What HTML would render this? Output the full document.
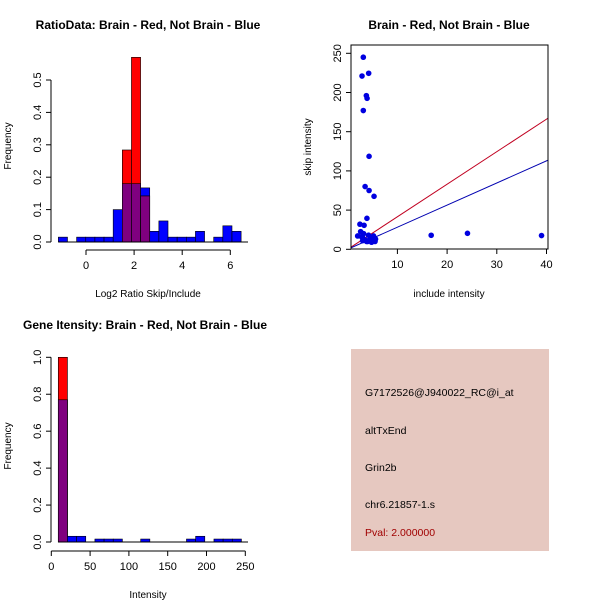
<!DOCTYPE html>
<html><head><meta charset="utf-8"><style>
html,body{margin:0;padding:0;background:#fff;}
svg{display:block;font-family:"Liberation Sans",sans-serif;}
</style></head><body>
<svg id="c" width="600" height="600" viewBox="0 0 600 600"></svg>
<script>
// Panel 1 data: log2 ratio histogram
const p1Start = -1.15, p1Width = 0.38;
const p1Blue = [0.015,0,0.015,0.015,0.015,0.015,0.1,0.18,0.18,0.167,0.033,0.065,0.015,0.015,0.015,0.033,0,0.015,0.05,0.033];
const p1Red  = [0,0,0,0,0,0,0,0.284,0.57,0.142,0,0,0,0,0,0,0,0,0,0];
const p1XTicks = [0,2,4,6];
const p1YTicks = [0,0.1,0.2,0.3,0.4,0.5];
// Panel 2 data: scatter
const p2X = [3.14,2.88,4.22,3.75,3.9,3.14,4.3,3.5,4.3,5.3,3.87,2.46,3.3,2.6,2.0,16.8,24.1,39.0,3,3.5,4,4.5,5,5.5,4.2,3.2,2.8,5.2,3.8,4.8,5.6,3.0];
const p2Y = [245,221,224.5,196,192.6,177,118.6,80,75,67.6,39.5,32,30.6,22.5,17,17.9,20.4,17.5,15,12,10,14,12,10,18,20,16,17,10,9,13,11];
const p2RedSlope = 4.15, p2BlueSlope = 2.82;
const p2XTicks = [10,20,30,40];
const p2YTicks = [0,50,100,150,200,250];
// Panel 3 data: intensity histogram
const p3Start = 9, p3Width = 11.8;
const p3Blue = [0.77,0.031,0.031,0,0.016,0.016,0.016,0,0,0.016,0,0,0,0,0.016,0.031,0,0.016,0.016,0.016];
const p3Red  = [1.0,0,0,0,0,0,0,0,0,0,0,0,0,0,0,0,0,0,0,0];
const p3XTicks = [0,50,100,150,200,250];
const p3YTicks = [0,0.2,0.4,0.6,0.8,1.0];

const svg = document.getElementById('c');
const NS = 'http://www.w3.org/2000/svg';
function mk(tag, attrs, parent){const e=document.createElementNS(NS,tag);for(const k in attrs)e.setAttribute(k,attrs[k]);(parent||svg).appendChild(e);return e;}
function txt(s,x,y,attrs){const e=mk('text',Object.assign({x:x,y:y,'font-size':11,fill:'#000'},attrs||{}));e.textContent=s;return e;}

function hist(g, start, width, blue, red, sx, sy, y0){
  for(let i=0;i<blue.length;i++){
    const a=start+i*width,b=a+width;
    const x1=sx(a),x2=sx(b);
    const bl=blue[i], rd=red[i], mn=Math.min(bl,rd);
    if(bl>0){const r=mk('rect',{x:x1,y:sy(bl),width:x2-x1,height:y0-sy(bl),fill:'#0000ff',stroke:'#000','stroke-width':0.6},g);
      
      }
    if(rd>0){const r=mk('rect',{x:x1,y:sy(rd),width:x2-x1,height:y0-sy(rd),fill:'#ff0000',stroke:'#000','stroke-width':0.6},g);
      
      }
    if(mn>0){const r=mk('rect',{x:x1,y:sy(mn),width:x2-x1,height:y0-sy(mn),fill:'#7f007f',stroke:'#000','stroke-width':0.6},g);
      
      }
  }
}
function yAxis(g,x,ticks,sy,fmt){
  mk('line',{x1:x,x2:x,y1:sy(ticks[0]),y2:sy(ticks[ticks.length-1]),stroke:'#000'},g);
  ticks.forEach(t=>{mk('line',{x1:x-5,x2:x,y1:sy(t),y2:sy(t),stroke:'#000'},g);
    txt(fmt(t),x-10,sy(t),{'text-anchor':'middle',transform:`rotate(-90 ${x-10} ${sy(t)})`});});
}
function xAxis(g,y,ticks,sx,line){
  if(line) mk('line',{x1:sx(ticks[0]),x2:sx(ticks[ticks.length-1]),y1:y,y2:y,stroke:'#000'},g);
  ticks.forEach(t=>{mk('line',{x1:sx(t),x2:sx(t),y1:y,y2:y+5,stroke:'#000'},g);
    txt(String(t),sx(t),y+19,{'text-anchor':'middle'});});
}

// Panel 1
const g1=mk('g',{});


const sx1=v=>86+v*24.05, sy1=v=>242-v*324;
txt('RatioData: Brain - Red, Not Brain - Blue',148,29,{'font-weight':'bold','font-size':12,'text-anchor':'middle'});
hist(g1,p1Start,p1Width,p1Blue,p1Red,sx1,sy1,242);
mk('line',{x1:sx1(p1Start),x2:248,y1:242,y2:242,stroke:'#000'},g1);
yAxis(g1,51,p1YTicks,sy1,t=>t.toFixed(1));
xAxis(g1,250,p1XTicks,sx1,true);
txt('Frequency',11,146,{'text-anchor':'middle',transform:'rotate(-90 11 146)','font-size':10});
txt('Log2 Ratio Skip/Include',148,297,{'text-anchor':'middle','font-size':10});

// Panel 2
const g2=mk('g',{});


const sx2=v=>347.7+v*4.97, sy2=v=>249.3-v*0.784;
txt('Brain - Red, Not Brain - Blue',449,29,{'font-weight':'bold','font-size':12,'text-anchor':'middle'});
mk('defs',{}).innerHTML='<clipPath id="cp2"><rect x="351" y="45" width="197" height="204"/></clipPath>';
const gl=mk('g',{'clip-path':'url(#cp2)'},g2);
mk('line',{x1:sx2(0),y1:sy2(0),x2:sx2(45),y2:sy2(45*p2RedSlope),stroke:'#c00020','stroke-width':1},gl);
mk('line',{x1:sx2(0),y1:sy2(0),x2:sx2(45),y2:sy2(45*p2BlueSlope),stroke:'#0000b0','stroke-width':1},gl);
for(let i=0;i<p2X.length;i++){
  const c=mk('circle',{cx:sx2(p2X[i]),cy:sy2(p2Y[i]),r:2.8,fill:'#0000e0'},g2);
  
  
}
mk('rect',{x:351,y:45,width:197,height:204,fill:'none',stroke:'#000'},g2);
yAxis(g2,351,p2YTicks,sy2,t=>String(t));
p2XTicks.forEach(t=>{mk('line',{x1:sx2(t),x2:sx2(t),y1:249,y2:254,stroke:'#000'},g2);txt(String(t),sx2(t),268,{'text-anchor':'middle'});});
txt('skip intensity',311,147,{'text-anchor':'middle',transform:'rotate(-90 311 147)','font-size':10});
txt('include intensity',449,297,{'text-anchor':'middle','font-size':10});

// Panel 3
const g3=mk('g',{});


const sx3=v=>51.3+v*0.776, sy3=v=>542-v*184.7;
txt('Gene Itensity: Brain - Red, Not Brain - Blue',145,329,{'font-weight':'bold','font-size':12,'text-anchor':'middle'});
hist(g3,p3Start,p3Width,p3Blue,p3Red,sx3,sy3,542);
mk('line',{x1:sx3(p3Start),x2:248,y1:542,y2:542,stroke:'#000'},g3);
yAxis(g3,51,p3YTicks,sy3,t=>t.toFixed(1));
xAxis(g3,551,p3XTicks,sx3,true);
txt('Frequency',11,446,{'text-anchor':'middle',transform:'rotate(-90 11 446)','font-size':10});
txt('Intensity',148,598,{'text-anchor':'middle','font-size':10});

// Panel 4 info box
const g4=mk('g',{});


mk('rect',{x:351,y:349,width:198,height:202,fill:'#e6c8c0'},g4);
txt('G7172526@J940022_RC@i_at',365,396,{'font-size':10.5});
txt('altTxEnd',365,434,{'font-size':10.5});
txt('Grin2b',365,471,{'font-size':10.5});
txt('chr6.21857-1.s',365,508,{'font-size':10.5});
txt('Pval: 2.000000',365,536,{'font-size':10.5,fill:'#a00000'});
</script>
</body></html>
